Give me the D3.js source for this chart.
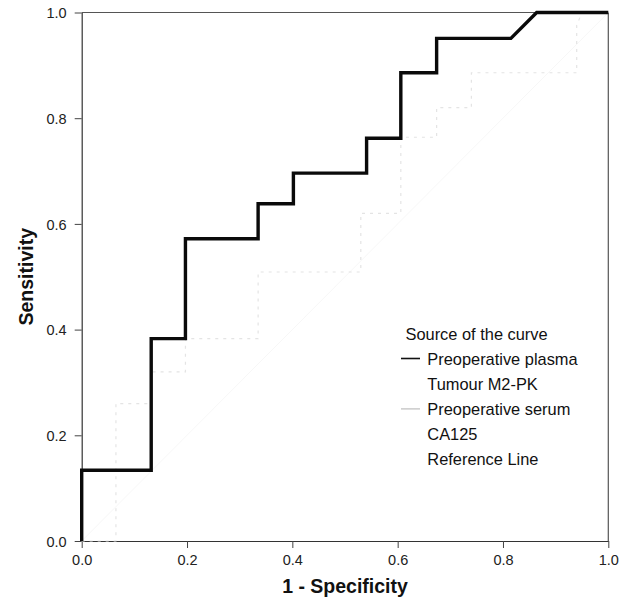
<!DOCTYPE html>
<html>
<head>
<meta charset="utf-8">
<script src="https://cdn.jsdelivr.net/npm/d3@7"></script>
<style>
  html, body { margin: 0; padding: 0; background: #fff; }
  svg { display: block; font-family: "Liberation Sans", Arial, Helvetica, sans-serif; }
</style>
</head>
<body>
<svg id="chart" width="629" height="598"></svg>
<script>
// ---- data ----
const xTicks = [0.0, 0.2, 0.4, 0.6, 0.8, 1.0];
const yTicks = [0.0, 0.2, 0.4, 0.6, 0.8, 1.0];

const plasmaX = [0, 0, 0.132, 0.132, 0.197, 0.197, 0.335, 0.335, 0.402, 0.402, 0.541, 0.541, 0.606, 0.606, 0.674, 0.674, 0.815, 0.864, 1.0];
const plasmaY = [0, 0.134, 0.134, 0.383, 0.383, 0.572, 0.572, 0.638, 0.638, 0.696, 0.696, 0.762, 0.762, 0.886, 0.886, 0.951, 0.951, 1.0, 1.0];

const serumX = [0, 0.065, 0.065, 0.132, 0.132, 0.197, 0.197, 0.335, 0.335, 0.53, 0.53, 0.606, 0.606, 0.674, 0.674, 0.74, 0.74, 0.94, 0.94, 0.95, 1.0];
const serumY = [0, 0, 0.26, 0.26, 0.32, 0.32, 0.383, 0.383, 0.509, 0.509, 0.62, 0.62, 0.764, 0.764, 0.82, 0.82, 0.886, 0.886, 0.976, 1.0, 1.0];

const refX = [0, 1];
const refY = [0, 1];

const legendTitle = "Source of the curve";
const legendItems = [
  { lines: ["Preoperative plasma", "Tumour M2-PK"], color: "#111", width: 1.6 },
  { lines: ["Preoperative serum", "CA125"], color: "#bdbdbd", width: 1.2 },
  { lines: ["Reference Line"], color: null, width: 0 }
];

// ---- layout ----
const svg = d3.select("#chart");
const x = d3.scaleLinear().domain([0, 1]).range([81.7, 608.3]);
const y = d3.scaleLinear().domain([0, 1]).range([541, 12.5]);

const toPts = (xs, ys) => xs.map((v, i) => [v, ys[i]]);
const line = d3.line().x(d => x(d[0])).y(d => y(d[1]));

// frame (top and right)
svg.append("line").attr("x1", x(0)).attr("x2", x(1)).attr("y1", y(1)).attr("y2", y(1))
  .attr("stroke", "#555").attr("stroke-width", 1.2);
svg.append("line").attr("x1", x(1)).attr("x2", x(1)).attr("y1", y(0)).attr("y2", y(1))
  .attr("stroke", "#555").attr("stroke-width", 1.2);

// axes
const xAxis = d3.axisBottom(x).tickValues(xTicks).tickFormat(d3.format(".1f")).tickSize(7).tickSizeOuter(0);
const yAxis = d3.axisLeft(y).tickValues(yTicks).tickFormat(d3.format(".1f")).tickSize(7).tickSizeOuter(0);

const gx = svg.append("g").attr("transform", `translate(0,${y(0)})`).call(xAxis);
const gy = svg.append("g").attr("transform", `translate(${x(0)},0)`).call(yAxis);
[gx, gy].forEach(g => {
  g.select(".domain").attr("stroke", "#333").attr("stroke-width", 1.2);
  g.selectAll(".tick line").attr("stroke", "#444").attr("stroke-width", 1);
  g.selectAll(".tick text").attr("fill", "#222").style("font-size", "14.5px")
    .style("font-family", "'Liberation Sans', Arial, sans-serif");
});
gx.selectAll(".tick text").attr("dy", null).attr("y", 24);
gy.selectAll(".tick text").attr("x", -15).attr("dy", "0.36em");

// reference line (nearly invisible in the original)
svg.append("path").datum(toPts(refX, refY)).attr("d", line)
  .attr("fill", "none").attr("stroke", "#f7f7f7").attr("stroke-width", 1);

// serum curve (very faint grey)
svg.append("path").datum(toPts(serumX, serumY)).attr("d", line)
  .attr("fill", "none").attr("stroke", "#e4e4e4").attr("stroke-width", 1.2)
  .attr("stroke-dasharray", "3,5");

// plasma curve (black, thick)
svg.append("path").datum(toPts(plasmaX, plasmaY)).attr("d", line)
  .attr("fill", "none").attr("stroke", "#0a0a0a").attr("stroke-width", 3.4)
  .attr("stroke-linejoin", "miter");

// axis titles
svg.append("text").attr("x", x(0.5)).attr("y", 593).attr("text-anchor", "middle")
  .style("font-size", "19.5px").style("font-weight", "bold").attr("fill", "#111")
  .text("1 - Specificity");
svg.append("text").attr("transform", `translate(33,${(y(0)+y(1))/2}) rotate(-90)`)
  .attr("text-anchor", "middle")
  .style("font-size", "19.5px").style("font-weight", "bold").attr("fill", "#111")
  .text("Sensitivity");

// legend
const lg = svg.append("g");
const fs = 16.4;
lg.append("text").attr("x", 405.5).attr("y", 340).style("font-size", fs + "px").attr("fill", "#111")
  .text(legendTitle);
let row = 0;
const rowH = 25.2;
legendItems.forEach(item => {
  const yb = 364.5 + row * rowH;
  if (item.color) {
    lg.append("line").attr("x1", 401).attr("x2", 420).attr("y1", yb - 6).attr("y2", yb - 6)
      .attr("stroke", item.color).attr("stroke-width", item.width);
  }
  item.lines.forEach((t, j) => {
    lg.append("text").attr("x", 427.3).attr("y", yb + j * rowH)
      .style("font-size", fs + "px").attr("fill", "#111").text(t);
  });
  row += item.lines.length;
});
</script>
</body>
</html>
